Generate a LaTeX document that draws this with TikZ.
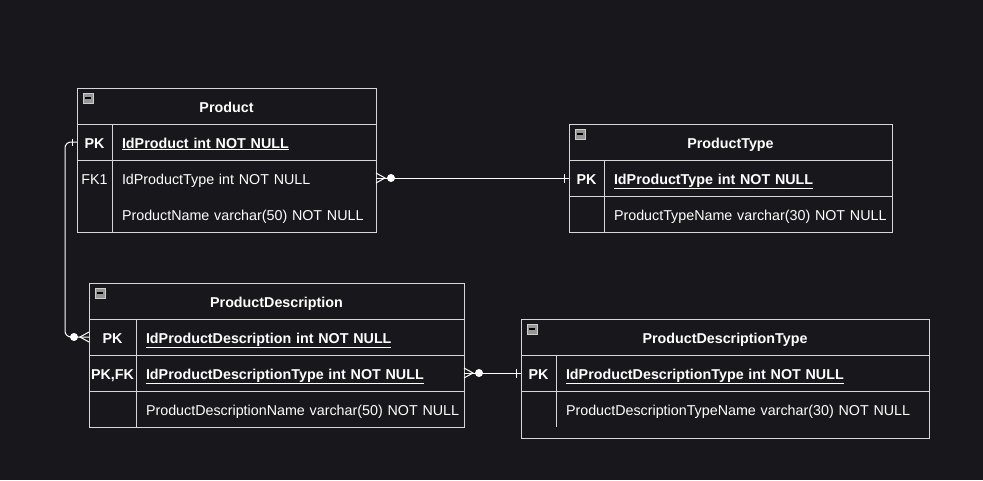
\documentclass[tikz,border=0pt]{standalone}
\usepackage{fontspec}
\setmainfont{Liberation Sans}
\usetikzlibrary{positioning}
\usetikzlibrary{calc}

\definecolor{bgcol}{RGB}{24,23,28}
\definecolor{linecol}{RGB}{215,215,215}
\definecolor{iconfill}{RGB}{150,150,150}
\definecolor{iconline}{RGB}{205,205,205}

\begin{document}
\begin{tikzpicture}[
  x=1pt, y=-1pt,
  font=\fontsize{14.3}{17}\selectfont,
  cell/.style={draw=linecol, line width=1pt, outer sep=0pt, inner sep=0pt, text=white, minimum height=36pt, text height=14pt, text depth=2pt},
  head/.style={cell, font=\fontsize{14.3}{17}\selectfont\bfseries},
  keycell/.style={cell, minimum width=35pt},
  fld/.style={cell, inner xsep=10pt, align=left, text width=#1,
    execute at begin node=\hbox\bgroup, execute at end node=\egroup},
  icon/.style={draw=iconline, fill=iconfill, line width=0.8pt, minimum size=10pt, inner sep=0pt, outer sep=0pt,
    path picture={\draw[black, line width=1.5pt] ([xshift=2pt]path picture bounding box.west) -- ([xshift=-2pt]path picture bounding box.east);}},
  conn/.style={draw=white, line width=1pt}
]

% background
\fill[bgcol] (0,0) rectangle (983,480);

% Product
\node[head, minimum width=299pt, anchor=north west] (prodHead) at (77,88) {Product};
\node[icon, anchor=north west] (prodIcon) at ($(prodHead.north west)+(6,5)$) {};
\node[keycell, below=0pt of prodHead.south west, anchor=north west] (prodK1) {\textbf{PK}};
\node[fld=244pt, right=0pt of prodK1] (prodF1) {\textbf{\underline{IdProduct int NOT NULL}}};
\node[keycell, draw=none, below=0pt of prodK1] (prodK2) {FK1};
\node[fld=244pt, draw=none, right=0pt of prodK2] (prodF2) {IdProductType int NOT NULL};
\node[keycell, draw=none, below=0pt of prodK2] (prodK3) {};
\node[fld=244pt, draw=none, right=0pt of prodK3] (prodF3) {ProductName varchar(50) NOT NULL};
\draw[linecol, line width=1pt] (prodK2.north west) rectangle (prodF3.south east);
\draw[linecol, line width=1pt] (prodK2.north east) -- (prodK3.south east);

% ProductType
\node[head, minimum width=323pt, anchor=north west] (typeHead) at (569,124) {ProductType};
\node[icon, anchor=north west] (typeIcon) at ($(typeHead.north west)+(6,5)$) {};
\node[keycell, below=0pt of typeHead.south west, anchor=north west] (typeK1) {\textbf{PK}};
\node[fld=268pt, right=0pt of typeK1] (typeF1) {\textbf{\underline{IdProductType int NOT NULL}}};
\node[keycell, below=0pt of typeK1] (typeK2) {};
\node[fld=268pt, right=0pt of typeK2] (typeF2) {ProductTypeName varchar(30) NOT NULL};

% ProductDescription
\node[head, minimum width=375pt, anchor=north west] (descHead) at (89,283) {ProductDescription};
\node[icon, anchor=north west] (descIcon) at ($(descHead.north west)+(6,5)$) {};
\node[keycell, minimum width=47pt, below=0pt of descHead.south west, anchor=north west] (descK1) {\textbf{PK}};
\node[fld=308pt, right=0pt of descK1] (descF1) {\textbf{\underline{IdProductDescription int NOT NULL}}};
\node[keycell, minimum width=47pt, below=0pt of descK1] (descK2) {\textbf{PK,FK}};
\node[fld=308pt, right=0pt of descK2] (descF2) {\textbf{\underline{IdProductDescriptionType int NOT NULL}}};
\node[keycell, minimum width=47pt, below=0pt of descK2] (descK3) {};
\node[fld=308pt, right=0pt of descK3] (descF3) {ProductDescriptionName varchar(50) NOT NULL};

% ProductDescriptionType
\node[head, minimum width=408pt, anchor=north west] (dtypeHead) at (521,319) {ProductDescriptionType};
\node[icon, anchor=north west] (dtypeIcon) at ($(dtypeHead.north west)+(6,5)$) {};
\node[keycell, below=0pt of dtypeHead.south west, anchor=north west] (dtypeK1) {\textbf{PK}};
\node[fld=353pt, right=0pt of dtypeK1] (dtypeF1) {\textbf{\underline{IdProductDescriptionType int NOT NULL}}};
\node[keycell, draw=none, below=0pt of dtypeK1] (dtypeK2) {};
\node[fld=353pt, draw=none, right=0pt of dtypeK2] (dtypeF2) {ProductDescriptionTypeName varchar(30) NOT NULL};
\draw[linecol, line width=1pt] (dtypeK2.north west) -- ($(dtypeK2.south west)+(0,11)$) -| (dtypeF2.north east);
\draw[linecol, line width=1pt] (dtypeK2.north east) -- (dtypeK2.south east);

% Product (FK1) -- ProductType
\draw[conn] (prodF2.east) -- (typeK1.west);
\draw[conn] ($(prodF2.east)+(0,-5)$) -- ($(prodF2.east)+(9,0)$) -- ($(prodF2.east)+(0,5)$);
\fill[white] ($(prodF2.east)+(15,0)$) circle (4pt);
\draw[conn] ($(typeK1.west)+(-5,-4.5)$) -- ($(typeK1.west)+(-5,4.5)$);

% Product (PK) -- ProductDescription
\draw[conn, rounded corners=6pt] (prodK1.west) -| ($(descK1.west)+(-24,0)$) -- (descK1.west);
\draw[conn] ($(prodK1.west)+(-5,-3.5)$) -- ($(prodK1.west)+(-5,3.5)$);
\draw[conn] ($(descK1.west)+(0,-5)$) -- ($(descK1.west)+(-9,0)$) -- ($(descK1.west)+(0,5)$);
\fill[white] ($(descK1.west)+(-15,0)$) circle (4pt);

% ProductDescription -- ProductDescriptionType
\draw[conn] (descF2.east) -- (dtypeK1.west);
\draw[conn] ($(descF2.east)+(0,-5)$) -- ($(descF2.east)+(9,0)$) -- ($(descF2.east)+(0,5)$);
\fill[white] ($(descF2.east)+(15,0)$) circle (4pt);
\draw[conn] ($(dtypeK1.west)+(-5,-4.5)$) -- ($(dtypeK1.west)+(-5,4.5)$);

\end{tikzpicture}
\end{document}
